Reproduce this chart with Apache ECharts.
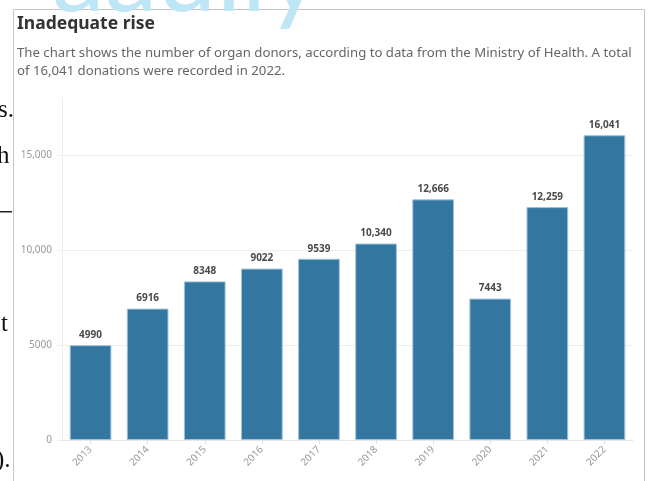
<!DOCTYPE html>
<html>
<head>
<meta charset="utf-8">
<script src="https://cdn.jsdelivr.net/npm/echarts@6/dist/echarts.min.js"></script>
<style>
html,body{margin:0;padding:0;background:#fff;}
#c{width:648px;height:481px;}
</style>
</head>
<body>
<div id="c"></div>
<script>
var categories = ['2013','2014','2015','2016','2017','2018','2019','2020','2021','2022'];
var donors = [4990, 6916, 8348, 9022, 9539, 10340, 12666, 7443, 12259, 16041];
var yTicks = [0, 5000, 10000, 15000];

function fmt(v){ return v >= 10000 ? v.toLocaleString('en-US') : String(v); }

var chart = echarts.init(document.getElementById('c'));
chart.setOption({
  animation: false,
  backgroundColor: '#fff',
  textStyle: { fontFamily: 'Noto Sans' },
  title: {
    left: 17, top: 15, padding: 0,
    text: 'Inadequate rise',
    textStyle: { fontFamily: 'Noto Sans', fontSize: 17.5, fontWeight: 'bold', color: '#333' },
    subtext: 'The chart shows the number of organ donors, according to data from the Ministry of Health. A total\nof 16,041 donations were recorded in 2022.',
    subtextStyle: { fontFamily: 'Noto Sans', fontSize: 13.2, color: '#666', lineHeight: 18 },
    itemGap: 11
  },
  graphic: [
    { type: 'rect', shape: { x: 13.5, y: 9.5, width: 631, height: 480 }, style: { fill: 'none', stroke: '#c4c4c4', lineWidth: 1 }, z: -1 },
    { type: 'text', x: 52, y: -76, style: { text: 'aaully', fontFamily: 'Lato', fontSize: 106, fill: '#bfe6f7', verticalAlign: 'top' } },
    { type: 'text', left: -2, top: 98, style: { text: 's.', fontFamily: 'Liberation Serif', fontSize: 25, fill: '#111' } },
    { type: 'text', left: -3, top: 144, style: { text: 'h', fontFamily: 'Liberation Serif', fontSize: 25, fill: '#111' } },
    { type: 'rect', shape: { x: 0, y: 211, width: 12, height: 1.5 }, style: { fill: '#222' } },
    { type: 'text', left: 1, top: 312, style: { text: 't', fontFamily: 'Liberation Serif', fontSize: 25, fill: '#111' } },
    { type: 'text', left: -4, top: 448, style: { text: ').', fontFamily: 'Liberation Serif', fontSize: 25, fill: '#111' } }
  ],
  grid: { left: 62, right: 15, top: 98, bottom: 41, containLabel: false },
  xAxis: {
    type: 'category',
    data: categories,
    axisLine: { lineStyle: { color: '#e8e8e8' } },
    axisTick: { show: true, alignWithLabel: true, length: 4, lineStyle: { color: '#e0e0e0' } },
    axisLabel: { rotate: 45, fontSize: 10, color: '#999', margin: 8 }
  },
  yAxis: {
    type: 'value',
    min: 0, max: 18000, interval: 5000,
    axisLine: { show: true, lineStyle: { color: '#eeeeee' } },
    axisTick: { show: true, length: 5, lineStyle: { color: '#eeeeee' } },
    splitLine: { show: true, showMaxLine: false, lineStyle: { color: '#eeeeee' } },
    axisLabel: {
      fontSize: 10, color: '#999', margin: 10, showMaxLabel: false,
      formatter: function(v){ return yTicks.indexOf(v) >= 0 ? fmt(v) : ''; }
    }
  },
  series: [{
    type: 'bar',
    data: donors,
    barWidth: '73%',
    itemStyle: { color: '#33769f', borderColor: '#9cc3dc', borderWidth: 1 },
    label: {
      show: true, position: 'top', distance: 5,
      fontSize: 10, fontWeight: 'bold', color: '#4a4a4a',
      formatter: function(p){ return fmt(p.value); }
    }
  }]
});
</script>
</body>
</html>
